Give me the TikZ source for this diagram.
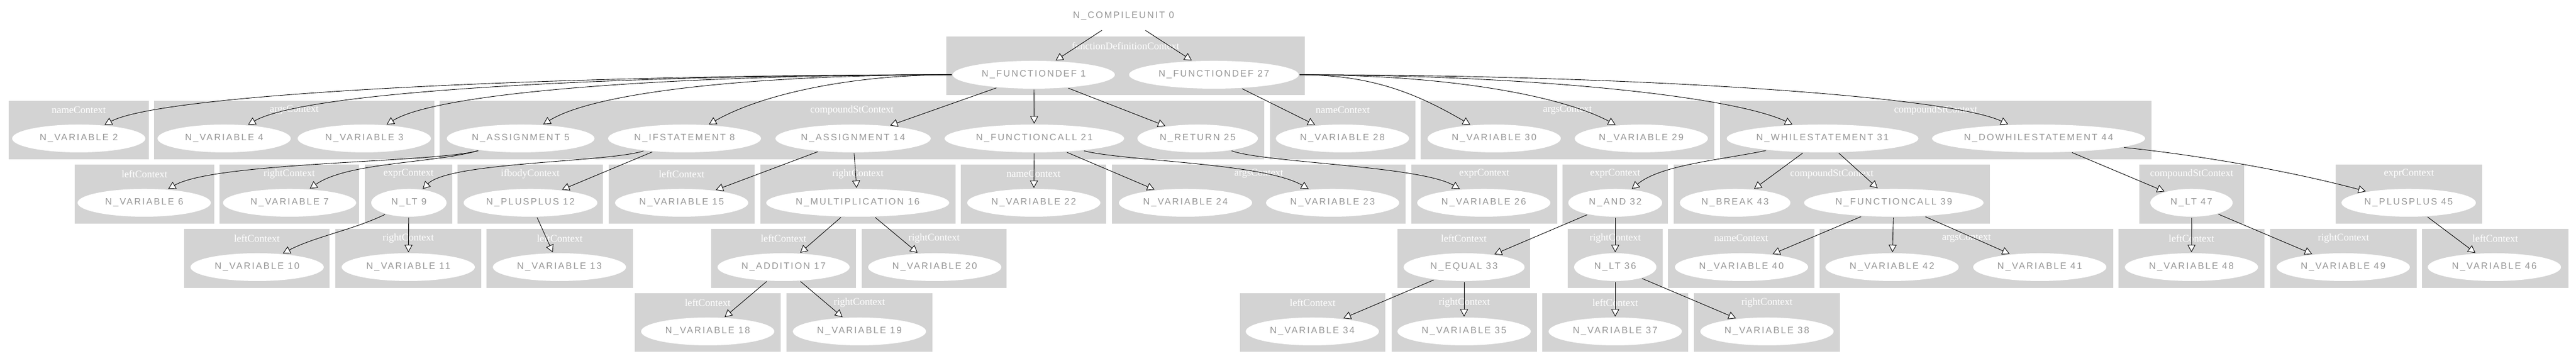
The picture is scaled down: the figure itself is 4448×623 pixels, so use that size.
\documentclass[tikz,border=0pt]{standalone}
\usepackage{fontspec}
\usetikzlibrary{shapes.geometric,arrows.meta}
\newfontfamily\astfont[LetterSpace=15]{Liberation Sans}
\newfontfamily\clfont{Liberation Serif}
\definecolor{clgray}{RGB}{211,211,211}
\definecolor{astgray}{RGB}{150,150,150}
\newcommand\mkclus[6]{%
  \fill[clus] (#2,-#3) rectangle (#4,-#5);
  \node[clab] (#1) at ({(#2+#4)/2},{-#3-16}) {#6};
}
\tikzset{
  ast/.style={ellipse, fill=white, draw=none, minimum height=6pt, minimum width=28.75pt,
    inner sep=0pt, text=astgray, font=\astfont\fontsize{2}{2.4}\selectfont},
  clus/.style={fill=clgray, draw=none},
  clab/.style={text=white, inner sep=0pt, font=\clfont\fontsize{2.19}{2.6}\selectfont},
  link/.style={line width=0.11pt, draw=black, -{Triangle[fill=white,length=1.6pt,width=1.7pt]}},
}
\begin{document}
\begin{tikzpicture}[x=0.125pt,y=0.125pt]
\useasboundingbox (0,0) rectangle (4448,-623);
\fill[white] (0,0) rectangle (4448,-623);
% ---- clusters ----
\mkclus{k1}{1634}{63}{2253}{164}{functionDefinitionContext}
% row 2
\mkclus{k2}{15}{174}{257}{275}{nameContext}
\mkclus{k3}{266}{174}{750}{275}{argsContext}
\mkclus{k4}{759}{174}{2183}{275}{compoundStContext}
\mkclus{k5}{2193}{174}{2444}{275}{nameContext}
\mkclus{k6}{2453}{174}{2960}{275}{argsContext}
\mkclus{k7}{2970}{174}{3715}{275}{compoundStContext}
% row 3
\mkclus{k8}{129}{284}{370}{386}{leftContext}
\mkclus{k9}{379}{284}{620}{386}{rightContext}
\mkclus{k10}{630}{284}{781}{386}{exprContext}
\mkclus{k11}{790}{284}{1041}{386}{ifbodyContext}
\mkclus{k12}{1051}{284}{1303}{386}{leftContext}
\mkclus{k13}{1313}{284}{1650}{386}{rightContext}
\mkclus{k14}{1659}{284}{1910}{386}{nameContext}
\mkclus{k15}{1920}{284}{2427}{386}{argsContext}
\mkclus{k16}{2437}{284}{2689}{386}{exprContext}
\mkclus{k17}{2698}{284}{2880}{386}{exprContext}
\mkclus{k18}{2890}{284}{3436}{386}{compoundStContext}
\mkclus{k19}{3694}{284}{3875}{386}{compoundStContext}
\mkclus{k20}{4033}{284}{4286}{386}{exprContext}
% row 4
\mkclus{k21}{318}{395}{569}{497}{leftContext}
\mkclus{k22}{579}{395}{831}{497}{rightContext}
\mkclus{k23}{840}{395}{1093}{497}{leftContext}
\mkclus{k24}{1228}{395}{1478}{497}{leftContext}
\mkclus{k25}{1488}{395}{1738}{497}{rightContext}
\mkclus{k26}{2413}{395}{2642}{497}{leftContext}
\mkclus{k27}{2707}{395}{2871}{497}{rightContext}
\mkclus{k28}{2880}{395}{3133}{497}{nameContext}
\mkclus{k29}{3142}{395}{3649}{497}{argsContext}
\mkclus{k30}{3658}{395}{3910}{497}{leftContext}
\mkclus{k31}{3920}{395}{4173}{497}{rightContext}
\mkclus{k32}{4182}{395}{4435}{497}{leftContext}
% row 5
\mkclus{k33}{1096}{506}{1348}{607}{leftContext}
\mkclus{k34}{1358}{506}{1610}{607}{rightContext}
\mkclus{k35}{2141}{506}{2392}{607}{leftContext}
\mkclus{k36}{2403}{506}{2654}{607}{rightContext}
\mkclus{k37}{2663}{506}{2915}{607}{leftContext}
\mkclus{k38}{2925}{506}{3177}{607}{rightContext}
% ---- nodes ----
\node[ast, minimum width=31.25pt] (C0) at (1940,-28) {N\_COMPILEUNIT 0};
\node[ast, minimum width=35pt] (F1) at (1785,-129) {N\_FUNCTIONDEF 1};
\node[ast, minimum width=36.625pt] (F27) at (2096,-129) {N\_FUNCTIONDEF 27};
% row 2
\node[ast] (V2) at (136,-239) {N\_VARIABLE 2};
\node[ast] (V4) at (387,-239) {N\_VARIABLE 4};
\node[ast] (V3) at (629,-239) {N\_VARIABLE 3};
\node[ast, minimum width=31.875pt] (A5) at (899,-239) {N\_ASSIGNMENT 5};
\node[ast, minimum width=33pt] (IF8) at (1182,-239) {N\_IFSTATEMENT 8};
\node[ast, minimum width=33.5pt] (A14) at (1473,-239) {N\_ASSIGNMENT 14};
\node[ast, minimum width=38.75pt] (FC21) at (1786,-239) {N\_FUNCTIONCALL 21};
\node[ast, minimum width=26pt] (R25) at (2068,-239) {N\_RETURN 25};
\node[ast] (V28) at (2318,-239) {N\_VARIABLE 28};
\node[ast] (V30) at (2580,-239) {N\_VARIABLE 30};
\node[ast] (V29) at (2834,-239) {N\_VARIABLE 29};
\node[ast, minimum width=41.375pt] (W31) at (3147,-239) {N\_WHILESTATEMENT 31};
\node[ast, minimum width=46pt] (DW44) at (3520,-239) {N\_DOWHILESTATEMENT 44};
% row 3
\node[ast] (V6) at (249,-350) {N\_VARIABLE 6};
\node[ast] (V7) at (500,-350) {N\_VARIABLE 7};
\node[ast, minimum width=16.25pt] (LT9) at (706,-350) {N\_LT 9};
\node[ast, minimum width=28.875pt] (PP12) at (916,-350) {N\_PLUSPLUS 12};
\node[ast] (V15) at (1177,-350) {N\_VARIABLE 15};
\node[ast, minimum width=39.5pt] (M16) at (1481,-350) {N\_MULTIPLICATION 16};
\node[ast] (V22) at (1785,-350) {N\_VARIABLE 22};
\node[ast] (V24) at (2047,-350) {N\_VARIABLE 24};
\node[ast] (V23) at (2301,-350) {N\_VARIABLE 23};
\node[ast] (V26) at (2562,-350) {N\_VARIABLE 26};
\node[ast, minimum width=20.25pt] (AND32) at (2789,-350) {N\_AND 32};
\node[ast, minimum width=23.875pt] (BR43) at (2996,-350) {N\_BREAK 43};
\node[ast, minimum width=38.75pt] (FC39) at (3270,-350) {N\_FUNCTIONCALL 39};
\node[ast, minimum width=17.75pt] (LT47) at (3784,-350) {N\_LT 47};
\node[ast, minimum width=29pt] (PP45) at (4159,-350) {N\_PLUSPLUS 45};
% row 4
\node[ast] (V10) at (444,-461) {N\_VARIABLE 10};
\node[ast] (V11) at (705,-461) {N\_VARIABLE 11};
\node[ast] (V13) at (966,-461) {N\_VARIABLE 13};
\node[ast, minimum width=28.5pt] (ADD17) at (1353,-461) {N\_ADDITION 17};
\node[ast] (V20) at (1614,-461) {N\_VARIABLE 20};
\node[ast, minimum width=26.125pt] (EQ33) at (2528,-461) {N\_EQUAL 33};
\node[ast, minimum width=17.75pt] (LT36) at (2789,-461) {N\_LT 36};
\node[ast] (V40) at (3007,-461) {N\_VARIABLE 40};
\node[ast] (V42) at (3267,-461) {N\_VARIABLE 42};
\node[ast] (V41) at (3522,-461) {N\_VARIABLE 41};
\node[ast] (V48) at (3784,-461) {N\_VARIABLE 48};
\node[ast] (V49) at (4046,-461) {N\_VARIABLE 49};
\node[ast] (V46) at (4307,-461) {N\_VARIABLE 46};
% row 5
\node[ast] (V18) at (1222,-572) {N\_VARIABLE 18};
\node[ast] (V19) at (1484,-572) {N\_VARIABLE 19};
\node[ast] (V34) at (2266,-572) {N\_VARIABLE 34};
\node[ast] (V35) at (2528,-572) {N\_VARIABLE 35};
\node[ast] (V37) at (2789,-572) {N\_VARIABLE 37};
\node[ast] (V38) at (3051,-572) {N\_VARIABLE 38};
% ---- edges ----
\draw[link] (C0) -- (F1);
\draw[link] (C0) -- (F27);
% FUNCTIONDEF 1
\draw[link] (F1) to[out=180,in=28,out distance=81.25pt,in distance=15pt] (V2);
\draw[link] (F1) to[out=180,in=30,out distance=68.75pt,in distance=15pt] (V4);
\draw[link] (F1) to[out=180,in=32,out distance=56.25pt,in distance=13.75pt] (V3);
\draw[link] (F1) to[out=180,in=32,out distance=40pt,in distance=13.75pt] (A5);
\draw[link] (F1) to[out=180,in=30,out distance=22.5pt,in distance=12.5pt] (IF8);
\draw[link] (F1) -- (A14);
\draw[link] (F1) -- (FC21);
\draw[link] (F1) -- (R25);
% FUNCTIONDEF 27
\draw[link] (F27) -- (V28);
\draw[link] (F27) to[out=0,in=150,out distance=16.25pt,in distance=12.5pt] (V30);
\draw[link] (F27) to[out=0,in=152,out distance=31.25pt,in distance=13.75pt] (V29);
\draw[link] (F27) to[out=0,in=155,out distance=47.5pt,in distance=15pt] (W31);
\draw[link] (F27) to[out=0,in=155,out distance=68.75pt,in distance=15pt] (DW44);
% row 2 -> row 3
\draw[link] (A5) to[out=196,in=30,out distance=9.5pt,in distance=11.75pt] (V6);
\draw[link] (A5) to[out=196,in=35,out distance=10pt,in distance=10pt] (V7);
\draw[link] (IF8) to[out=197,in=45,out distance=8.5pt,in distance=8.25pt] (LT9);
\draw[link] (IF8) -- (PP12);
\draw[link] (A14) -- (V15);
\draw[link] (A14) -- (M16);
\draw[link] (FC21) -- (V22);
\draw[link] (FC21) -- (V24);
\draw[link] (FC21) to[out=-14,in=150,out distance=9.25pt,in distance=11.25pt] (V23);
\draw[link] (R25) to[out=-20,in=150,out distance=7.5pt,in distance=10pt] (V26);
\draw[link] (W31) to[out=192,in=40,out distance=9.625pt,in distance=8.125pt] (AND32);
\draw[link] (W31) -- (BR43);
\draw[link] (W31) -- (FC39);
\draw[link] (DW44) -- (LT47);
\draw[link] (DW44) to[out=-6,in=165,out distance=18.75pt,in distance=15pt] (PP45);
% row 3 -> row 4
\draw[link] (LT9) to[out=206,in=28,out distance=7.5pt,in distance=7.5pt] (V10);
\draw[link] (LT9) -- (V11);
\draw[link] (PP12) -- (V13);
\draw[link] (M16) -- (ADD17);
\draw[link] (M16) -- (V20);
\draw[link] (AND32) -- (EQ33);
\draw[link] (AND32) -- (LT36);
\draw[link] (FC39) -- (V40);
\draw[link] (FC39) -- (V42);
\draw[link] (FC39) -- (V41);
\draw[link] (LT47) -- (V48);
\draw[link] (LT47) -- (V49);
\draw[link] (PP45) -- (V46);
% row 4 -> row 5
\draw[link] (ADD17) -- (V18);
\draw[link] (ADD17) -- (V19);
\draw[link] (EQ33) -- (V34);
\draw[link] (EQ33) -- (V35);
\draw[link] (LT36) -- (V37);
\draw[link] (LT36) -- (V38);
\end{tikzpicture}
\end{document}
